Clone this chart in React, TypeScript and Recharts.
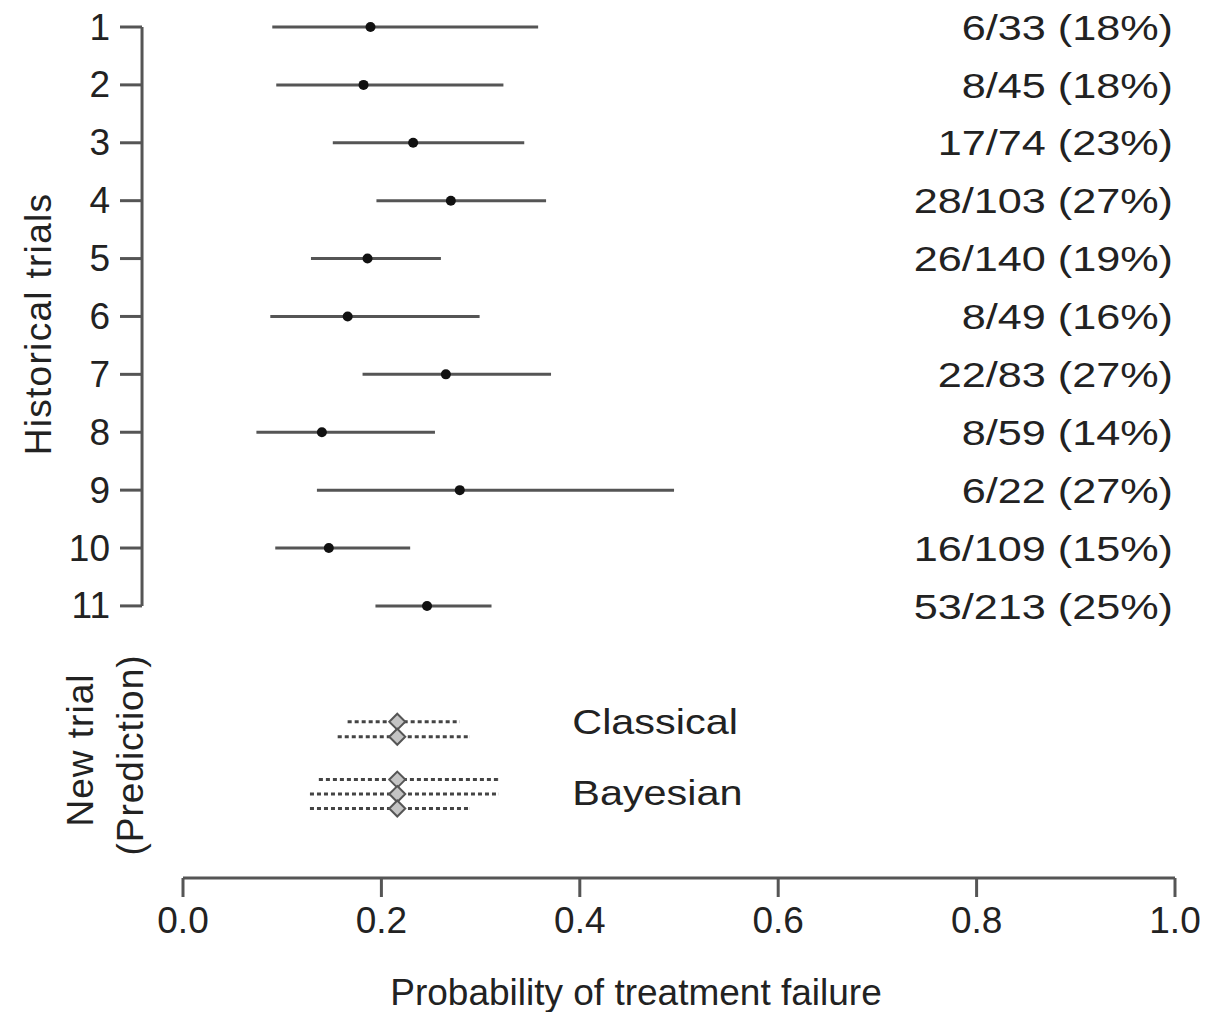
import React from "react";
import { ScatterChart, Scatter, XAxis, YAxis, ErrorBar, ReferenceLine } from "recharts";

const FONT = "'Liberation Sans', Arial, Helvetica, sans-serif";
const INK = "#222";
const GREY = "#555";

// historical trials
const trials = [1, 2, 3, 4, 5, 6, 7, 8, 9, 10, 11];
const estimates = [0.189, 0.182, 0.232, 0.27, 0.186, 0.166, 0.265, 0.14, 0.279, 0.147, 0.246];
const lowerCI = [0.09, 0.094, 0.151, 0.195, 0.129, 0.088, 0.181, 0.074, 0.135, 0.093, 0.194];
const upperCI = [0.358, 0.323, 0.344, 0.366, 0.26, 0.299, 0.371, 0.254, 0.495, 0.229, 0.311];
const countLabels = [
  "6/33 (18%)", "8/45 (18%)", "17/74 (23%)", "28/103 (27%)", "26/140 (19%)", "8/49 (16%)",
  "22/83 (27%)", "8/59 (14%)", "6/22 (27%)", "16/109 (15%)", "53/213 (25%)",
];

// new trial predictions (2 classical, 3 bayesian intervals)
const predRows = [13.0, 13.26, 14.0, 14.25, 14.5];
const predMean = [0.216, 0.216, 0.216, 0.216, 0.216];
const predLower = [0.166, 0.156, 0.137, 0.128, 0.128];
const predUpper = [0.279, 0.289, 0.318, 0.318, 0.289];
const predGroups = ["Classical", "Bayesian"];
const predGroupRows = [13.0, 14.22];

const xTicks = [0, 0.2, 0.4, 0.6, 0.8, 1.0];
const yDomain = [1, 15.7];
const yAxisLineX = -0.0413;

const histData = trials.map((t, i) => ({
  x: estimates[i],
  y: t,
  err: [estimates[i] - lowerCI[i], upperCI[i] - estimates[i]],
}));

// count labels sit at the right edge of the x range
const countData = trials.map((t, i) => ({ x: 1, y: t, name: countLabels[i] }));

const predData = predRows.map((r, i) => ({
  x: predMean[i],
  y: r,
  err: [predMean[i] - predLower[i], predUpper[i] - predMean[i]],
}));

const groupData = predGroups.map((g, i) => ({ x: predMean[0], y: predGroupRows[i], name: g }));

const LeftTick = (props: any) => {
  const { x, y, payload } = props;
  return (
    <g>
      <line x1={x - 63} x2={x - 41} y1={y} y2={y} stroke={GREY} strokeWidth={3} />
      <text x={x - 73} y={y} textAnchor="end" dominantBaseline="central" fontSize={37} fill={INK} fontFamily={FONT}>
        {payload.value}
      </text>
    </g>
  );
};

// the source glyphs are a bit wider than Arial, so stretch horizontally
const CountLabel = (props: any) => (
  <text
    transform={`translate(${props.cx - 2},${props.cy}) scale(1.2,1)`}
    textAnchor="end"
    dominantBaseline="central"
    fontSize={36}
    fill={INK}
    fontFamily={FONT}
  >
    {props.payload.name}
  </text>
);

const Dot = (props: any) => <circle cx={props.cx} cy={props.cy} r={5} fill="#111" />;

const Diamond = (props: any) => {
  const { cx, cy } = props;
  const h = 8;
  return (
    <polygon
      points={`${cx},${cy - h} ${cx + h},${cy} ${cx},${cy + h} ${cx - h},${cy}`}
      fill="#c4c4c4"
      stroke="#555"
      strokeWidth={2}
    />
  );
};

const GroupLabel = (props: any) => (
  <text
    transform={`translate(${props.cx + 175},${props.cy}) scale(1.15,1)`}
    dominantBaseline="central"
    fontSize={36}
    fill={INK}
    fontFamily={FONT}
  >
    {props.payload.name}
  </text>
);

const SideTitles = () => (
  <g fontFamily={FONT} fontSize={37} fill={INK} textAnchor="middle">
    <text transform="translate(30,316) rotate(-90)" dominantBaseline="central" letterSpacing={1.3}>Historical trials</text>
    <text transform="translate(72,742) rotate(-90)" dominantBaseline="central" letterSpacing={1}>New trial</text>
    <text transform="translate(122,747) rotate(-90)" dominantBaseline="central" letterSpacing={1}>(Prediction)</text>
  </g>
);

const XTitle = (props: any) => {
  const vb = props.viewBox;
  return (
    <text x={vb.x + vb.width / 2 - 43} y={vb.y + 114} textAnchor="middle" dominantBaseline="central" fontSize={37} fill={INK} fontFamily={FONT}>
      Probability of treatment failure
    </text>
  );
};

export default function App() {
  return (
    <ScatterChart width={1205} height={1004} margin={{ top: 19, right: 38, bottom: 0, left: 0 }}>
      <XAxis
        type="number"
        dataKey="x"
        domain={[0, 1]}
        ticks={xTicks}
        tickFormatter={(v: number) => v.toFixed(1)}
        height={134}
        tickSize={19}
        tickMargin={10}
        axisLine={{ stroke: GREY, strokeWidth: 3 }}
        tickLine={{ stroke: GREY, strokeWidth: 3 }}
        tick={{ fontSize: 37, fill: INK, fontFamily: FONT }}
        label={{ content: XTitle }}
      />
      <YAxis
        type="number"
        dataKey="y"
        domain={yDomain}
        reversed
        ticks={trials}
        width={175}
        axisLine={false}
        tickLine={false}
        tickSize={0}
        tickMargin={0}
        tick={LeftTick}
        label={{ content: SideTitles }}
      />
      <ReferenceLine
        segment={[{ x: yAxisLineX, y: trials[0] }, { x: yAxisLineX, y: trials[trials.length - 1] }]}
        ifOverflow="visible"
        stroke={GREY}
        strokeWidth={3}
      />
      <Scatter data={histData} shape={Dot} isAnimationActive={false}>
        <ErrorBar dataKey="err" direction="x" width={0} stroke={GREY} strokeWidth={3} isAnimationActive={false} />
      </Scatter>
      <Scatter data={countData} shape={CountLabel} isAnimationActive={false} />
      <Scatter data={predData} shape={Diamond} isAnimationActive={false}>
        <ErrorBar dataKey="err" direction="x" width={0} stroke="#444" strokeWidth={3} strokeDasharray="4 3" isAnimationActive={false} />
      </Scatter>
      <Scatter data={groupData} shape={GroupLabel} isAnimationActive={false} />
    </ScatterChart>
  );
}
